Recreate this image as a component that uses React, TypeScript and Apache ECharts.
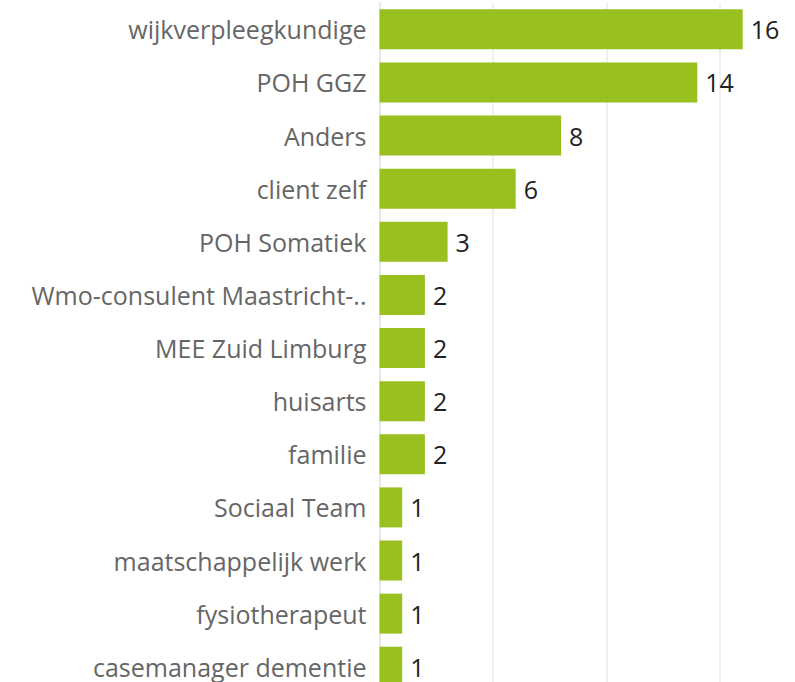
import React, { useEffect, useRef } from "react";
import * as echarts from "echarts";

const categories = [
  "wijkverpleegkundige",
  "POH GGZ",
  "Anders",
  "client zelf",
  "POH Somatiek",
  "Wmo-consulent Maastricht-..",
  "MEE Zuid Limburg",
  "huisarts",
  "familie",
  "Sociaal Team",
  "maatschappelijk werk",
  "fysiotherapeut",
  "casemanager dementie",
];
const values = [16, 14, 8, 6, 3, 2, 2, 2, 2, 1, 1, 1, 1];

export default function App() {
  const ref = useRef<HTMLDivElement>(null);
  useEffect(() => {
    if (!ref.current) return;
    const chart = echarts.init(ref.current, null, { renderer: "svg" });
    chart.setOption({
      animation: false,
      backgroundColor: "#ffffff",
      grid: { left: 379.5, top: 2.8, width: 454, height: 690.5, containLabel: false },
      xAxis: {
        type: "value",
        min: 0,
        max: 20,
        interval: 5,
        axisLabel: { show: false },
        axisTick: { show: false },
        axisLine: { show: false },
        splitLine: { show: true, showMaxLine: false, lineStyle: { color: "#ebebeb", width: 1.5 } },
      },
      yAxis: {
        type: "category",
        data: categories,
        inverse: true,
        axisTick: { show: false },
        axisLine: { show: true, lineStyle: { color: "#e6e6e6", width: 1.5 } },
        axisLabel: {
          color: "#666666",
          fontFamily: "Open Sans",
          fontSize: 25,
          margin: 13,
        },
        splitLine: { show: false },
      },
      series: [
        {
          type: "bar",
          data: values,
          barWidth: 40,
          itemStyle: { color: "#98c11f" },
          label: {
            show: true,
            position: "right",
            distance: 8,
            color: "#222222",
            fontFamily: "Open Sans",
            fontSize: 25,
          },
        },
      ],
    });
    return () => chart.dispose();
  }, []);
  return (
    <div
      ref={ref}
      style={{ position: "fixed", left: 0, top: 0, width: 840, height: 700 }}
    />
  );
}
